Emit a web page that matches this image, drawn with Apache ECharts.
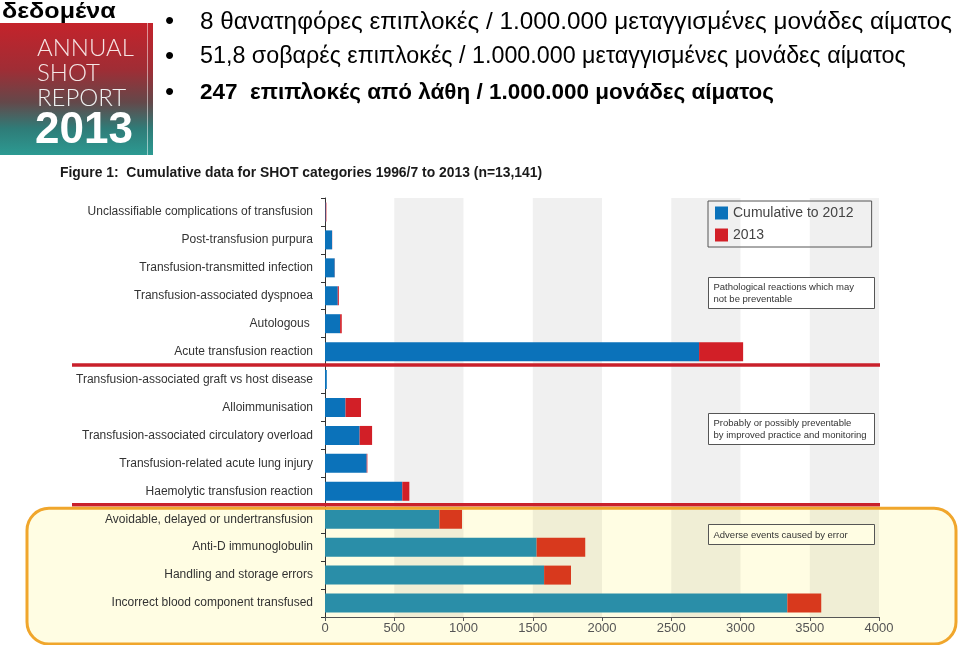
<!DOCTYPE html>
<html><head><meta charset="utf-8">
<script src="https://cdn.jsdelivr.net/npm/echarts@6/dist/echarts.min.js"></script>
<style>html,body{margin:0;padding:0;background:#fff}#c{width:959px;height:645px}</style>
</head><body><div id="c"></div>
<script>
// ---- data ----
const categories = [
  'Unclassifiable complications of transfusion',
  'Post-transfusion purpura',
  'Transfusion-transmitted infection',
  'Transfusion-associated dyspnoea',
  'Autologous ',
  'Acute transfusion reaction',
  'Transfusion-associated graft vs host disease',
  'Alloimmunisation',
  'Transfusion-associated circulatory overload',
  'Transfusion-related acute lung injury',
  'Haemolytic transfusion reaction',
  'Avoidable, delayed or undertransfusion',
  'Anti-D immunoglobulin',
  'Handling and storage errors',
  'Incorrect blood component transfused'
];
const cumulativeTo2012 = [5, 51, 70, 92, 109, 2701, 13, 148, 250, 301, 558, 826, 1528, 1582, 3338];
const year2013 = [5, 1, 1, 8, 12, 318, 0, 112, 90, 5, 51, 163, 351, 194, 245];
const seriesNames = ['Cumulative to 2012', '2013'];
const groupBreaks = [6, 11]; // index of first category of a new group
const errorGroupStart = 11;
const xTicks = {min: 0, max: 4000, step: 500};
const headerLines = [
  '8 θανατηφόρες επιπλοκές / 1.000.000 μεταγγισμένες μονάδες αίματος',
  '51,8 σοβαρές επιπλοκές / 1.000.000 μεταγγισμένες μονάδες αίματος',
  '247  επιπλοκές από λάθη / 1.000.000 μονάδες αίματος'
];
const headerWord = 'δεδομένα';
const logoLines = ['ANNUAL', 'SHOT', 'REPORT', '2013'];
const figTitle = 'Figure 1:  Cumulative data for SHOT categories 1996/7 to 2013 (n=13,141)';
const notes = [
  'Pathological reactions which may\nnot be preventable',
  'Probably or possibly preventable\nby improved practice and monitoring',
  'Adverse events caused by error'
];

// ---- style ----
const BLUE = '#0b72ba', RED = '#d21f27', TEAL = '#2a8ea8', ORANGE = '#d8391d';
const FONT = 'Liberation Sans';

const chart = echarts.init(document.getElementById('c'));
chart.setOption({
  animation: false,
  textStyle: {fontFamily: FONT},
  title: {
    text: figTitle, left: 60, top: 166, padding: 0,
    textStyle: {fontFamily: FONT, fontSize: 13.9, fontWeight: 'bold', color: '#1a1a1a'}
  },
  legend: {
    orient: 'vertical', left: 708, top: 201,
    data: seriesNames, icon: 'rect', itemWidth: 13, itemHeight: 13, itemGap: 8,
    borderColor: '#555', borderWidth: 1, padding: [5, 18, 5, 7],
    textStyle: {fontSize: 14, color: '#444', fontFamily: FONT}
  },
  grid: {left: 325, right: 80, top: 198, bottom: 28, containLabel: false},
  xAxis: {
    type: 'value', min: xTicks.min, max: xTicks.max, interval: xTicks.step,
    axisLine: {show: true, lineStyle: {color: '#555'}},
    axisTick: {show: true, length: 4, lineStyle: {color: '#555'}},
    axisLabel: {fontSize: 13, color: '#555', margin: 5, formatter: v => String(v)},
    splitLine: {show: false},
    splitArea: {show: true, areaStyle: {color: ['rgba(0,0,0,0)', 'rgba(0,0,0,0.06)']}}
  },
  yAxis: {
    type: 'category', inverse: true, data: categories,
    axisLine: {show: true, lineStyle: {color: '#333'}},
    axisTick: {show: true, length: 4, lineStyle: {color: '#333'}},
    axisLabel: {fontSize: 12, color: '#333', margin: 12}
  },
  series: [
    {
      name: seriesNames[0], type: 'bar', stack: 'total', barWidth: 19,
      itemStyle: {color: BLUE},
      data: cumulativeTo2012.map((v, i) => ({value: v, itemStyle: {color: i >= errorGroupStart ? TEAL : BLUE}}))
    },
    {
      name: seriesNames[1], type: 'bar', stack: 'total', barWidth: 19,
      itemStyle: {color: RED},
      data: year2013.map((v, i) => ({value: v, itemStyle: {color: i >= errorGroupStart ? ORANGE : RED}}))
    }
  ]
});

// boundaries from the axis
const yc = i => chart.convertToPixel({yAxisIndex: 0}, categories[i]);
const boundary = i => (yc(i - 1) + yc(i)) / 2;
const b2 = boundary(groupBreaks[1]);

const graphics = [];
// yellow error-region background
graphics.push({type: 'rect', z: -10, shape: {x: 27, y: b2 + 3, width: 929, height: 645 - b2 - 4, r: 22},
  style: {fill: '#fffde3', stroke: null}});
graphics.push({type: 'rect', z: 60, shape: {x: 27, y: b2 + 3, width: 929, height: 645 - b2 - 4, r: 22},
  style: {fill: null, stroke: '#f0a62c', lineWidth: 3}});
// red separators
groupBreaks.forEach(g => {
  const y = boundary(g);
  graphics.push({type: 'line', z: 50, shape: {x1: 72, y1: y - 0.5, x2: 880, y2: y - 0.5},
    style: {stroke: '#c9202b', lineWidth: 3.5}});
});
// note boxes
const noteBoxes = [[277, 31, '#fff'], [413, 31, '#fff'], [524, 20, '#fffde3']];
noteBoxes.forEach((b, k) => {
  graphics.push({type: 'group', left: 708, top: b[0], z: 70, children: [
    {type: 'rect', shape: {x: 0, y: 0, width: 166, height: b[1]}, style: {fill: b[2], stroke: '#555', lineWidth: 1}},
    {type: 'text', x: 5, y: b[1] / 2 + 0.5, style: {text: notes[k], fontSize: 9.5, lineHeight: 12, fill: '#333', fontFamily: FONT, verticalAlign: 'middle'}}
  ]});
});
// header: logo + word
graphics.push({type: 'group', x: 0, y: 0, children: [
  {type: 'rect', shape: {x: 0, y: 23, width: 153, height: 132},
   style: {fill: new echarts.graphic.LinearGradient(0, 0, 0, 1, [
     {offset: 0, color: '#c4232b'}, {offset: 0.35, color: '#a02d35'}, {offset: 0.6, color: '#64484a'},
     {offset: 0.8, color: '#2f7c78'}, {offset: 1, color: '#2c9a92'}])}},
  {type: 'rect', shape: {x: 147, y: 23, width: 1, height: 132}, style: {fill: 'rgba(255,255,255,0.5)'}},
  {type: 'text', x: 37, y: 48.5, style: {text: logoLines[0], fontSize: 24, fontWeight: 300, fill: '#f6e4e4', fontFamily: 'Lato', verticalAlign: 'middle'}},
  {type: 'text', x: 37, y: 73.5, style: {text: logoLines[1], fontSize: 24, fontWeight: 300, fill: '#f4e6e6', fontFamily: 'Lato', verticalAlign: 'middle'}},
  {type: 'text', x: 37, y: 98, style: {text: logoLines[2], fontSize: 24, fontWeight: 300, fill: '#eef0f0', fontFamily: 'Lato', verticalAlign: 'middle'}},
  {type: 'text', x: 35, y: 131, style: {text: logoLines[3], fontSize: 44, fontWeight: 'bold', fill: '#ffffff', fontFamily: FONT, verticalAlign: 'middle'}},
  {type: 'text', x: 2, y: 12, scaleX: 1.14, style: {text: headerWord, fontSize: 22, fontWeight: 'bold', fill: '#000', fontFamily: FONT, verticalAlign: 'middle'}}
]});
const lineY = [22, 57, 93];
const lineSize = [24.3, 23.3, 22.5];
headerLines.forEach((t, k) => {
  graphics.push({type: 'text', x: 165, y: lineY[k], style: {text: '•', fontSize: 26, fill: '#000', verticalAlign: 'middle', fontFamily: FONT}});
  graphics.push({type: 'text', x: 200, y: lineY[k], style: {text: t, fontSize: lineSize[k], fontWeight: k === 2 ? 'bold' : 'normal',
    fill: '#000', verticalAlign: 'middle', fontFamily: FONT}});
});
chart.setOption({graphic: graphics});
</script>
</body></html>
